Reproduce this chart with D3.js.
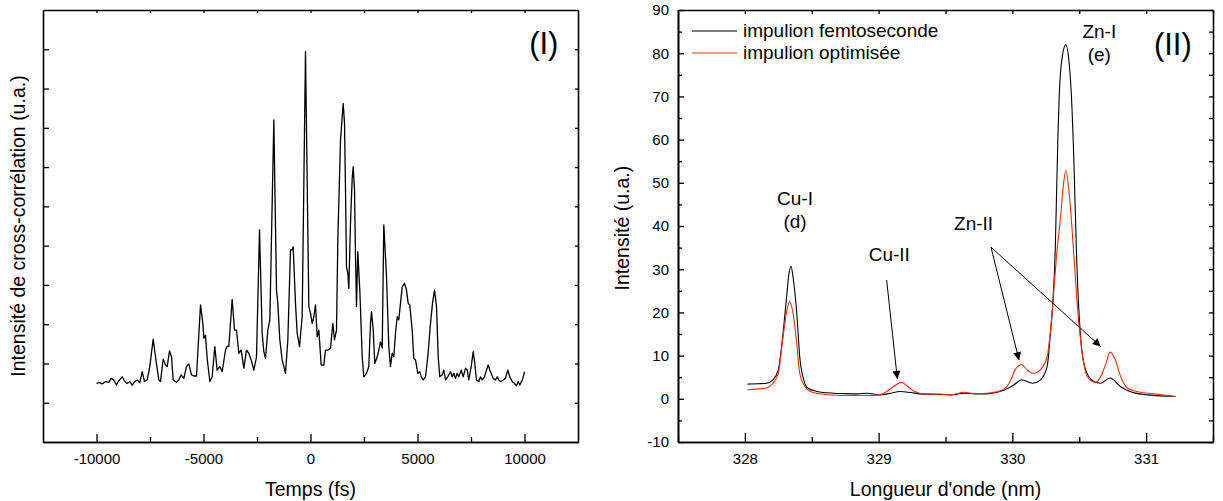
<!DOCTYPE html>
<html>
<head>
<meta charset="utf-8">
<script src="https://cdn.jsdelivr.net/npm/d3@7"></script>
<style>
  html, body { margin: 0; padding: 0; background: #fff; }
  svg { display: block; }
  text { font-family: "Liberation Sans", Arial, sans-serif; fill: #000; }
</style>
</head>
<body>
<svg id="chart" width="1223" height="501"></svg>
<script>
// ---------- Panel (I): cross-correlation ----------
const timeFs = [-10000,-9890,-9735,-9580,-9425,-9315,-9190,-9066,-8957,-8800,-8677,-8566,-8443,-8332,-8209,-8098,-7975,-7865,-7757,-7631,-7509,-7351,-7243,-7089,-7010,-6884,-6776,-6697,-6589,-6495,-6416,-6262,-6153,-6043,-5919,-5795,-5686,-5561,-5452,-5327,-5140,-5031,-4984,-4907,-4829,-4704,-4595,-4471,-4362,-4237,-4128,-3972,-3894,-3816,-3661,
 -3551,-3458,-3349,-3240,-3115,-2991,-2882,-2773,-2648,-2523,-2383,-2259,-2181,-2103,-1994,-1900,-1713,-1589,-1527,-1433,-1324,-1168,-1059,-935,-857,-810,-701,-623,-514,-389,-234,-78,0,78,156,234,312,390,499,623,701,810,935,1044,1121,1215,1277,1402,1527,
 1589,1636,1682,1743,1790,1869,1949,1995,2056,2103,2150,2210,2304,2416,2491,2617,2724,2804,2851,2930,3005,3117,3192,3271,3351,3425,3552,3659,3738,3818,3893,3972,4052,4126,4238,4285,4393,4486,4566,4640,4752,4827,4907,5014,5108,5173,5267,5374,5481,5608,5701,5795,5888,5967,6042,6154,6229,6309,6416,
 6542,6622,6696,6776,6855,6930,7042,7136,7243,7323,7397,7510,7603,7678,7757,7865,7944,8024,8131,8224,8304,8379,8444,8538,8645,8725,8800,8879,9005,9112,9220,9313,9425,9533,9626,9706,9781,9893,9968,10000];
const crossCorr = [1.49,1.52,1.48,1.54,1.52,1.62,1.58,1.45,1.56,1.66,1.54,1.49,1.54,1.45,1.54,1.58,1.51,1.79,1.54,1.58,1.92,2.62,2.17,1.58,1.54,2.11,1.96,1.92,2.32,2.17,1.58,1.52,1.58,1.71,1.62,1.92,1.99,1.71,1.68,1.68,3.49,3.02,2.64,2.72,2.13,1.54,1.66,2.43,1.83,1.92,1.79,2.34,2.44,2.43,3.63,
 2.85,2.85,2.26,2.34,1.88,2.34,2.26,2.09,1.83,2.17,5.40,2.77,2.30,2.13,2.85,3.11,8.20,3.87,3.53,2.60,2.09,1.75,2.60,4.89,4.89,4.97,3.53,2.77,2.43,3.19,9.94,3.45,3.28,3.02,3.19,3.49,2.68,2.85,1.96,1.96,2.34,2.34,2.39,3.02,2.60,2.85,5.14,7.69,8.62,
 8.12,6.42,4.46,4.30,3.91,5.57,6.72,7.01,6.42,4.72,3.45,4.85,3.87,2.17,1.66,1.75,1.92,3.02,3.32,2.85,2.00,2.17,2.34,2.55,2.39,5.53,4.21,2.43,1.92,2.26,2.17,2.77,3.19,3.11,3.70,3.95,4.04,3.87,3.53,3.49,2.85,2.13,2.09,1.75,1.79,1.66,1.58,1.66,2.17,3.02,3.53,3.87,3.45,2.17,1.66,1.71,1.83,1.58,1.66,
 1.79,1.66,1.75,1.62,1.75,1.66,1.83,1.66,1.88,1.83,1.58,1.92,2.30,2.00,1.58,1.54,1.66,1.58,1.66,1.83,1.96,1.83,1.75,1.62,1.58,1.66,1.58,1.54,1.58,1.62,1.83,1.66,1.54,1.49,1.43,1.54,1.45,1.58,1.71,1.79];
const timeMajorTicks = [-10000,-5000,0,5000,10000];
const timeMinorTicks = [-7500,-2500,2500,7500];
const ccTicks = [1,2,3,4,5,6,7,8,9,10];

// ---------- Panel (II): emission spectra ----------
const lambdaFemto = [328.02,328.10,328.16,328.21,328.25,328.28,328.31,328.33,328.345,328.36,328.39,328.41,328.44,328.47,328.54,328.66,328.75,328.84,328.91,329.01,329.09,329.16,329.24,329.31,329.42,329.54,329.64,329.72,329.81,329.93,330.01,330.07,330.15,330.21,330.26,330.28,330.30,330.32,330.33,330.34,330.35,330.37,330.40,330.42,330.44,330.46,330.48,330.50,330.52,330.54,330.57,330.61,330.66,330.73,330.81,330.88,331.01,331.22];
const intFemto = [3.4,3.5,3.6,4.4,6.7,13.6,22.9,29.0,30.7,28.2,19.0,9.8,4.4,2.5,1.7,1.3,1.2,1.15,1.3,0.9,1.3,1.7,1.45,1.15,1.05,0.9,1.3,1.15,1.15,1.9,3.2,4.4,3.6,4.4,7.5,13.6,21,34,47,60,70,78.5,82,79,71,55,33,19,11,7.5,5.2,4.0,3.6,4.8,2.8,1.7,0.9,0.53];
const lambdaOpt = [328.02,328.10,328.16,328.21,328.25,328.28,328.31,328.335,328.36,328.39,328.41,328.45,328.49,328.56,328.71,328.91,329.01,329.06,329.11,329.17,329.22,329.27,329.34,329.45,329.54,329.64,329.72,329.81,329.93,329.99,330.02,330.07,330.11,330.16,330.22,330.26,330.29,330.31,330.33,330.36,330.38,330.40,330.42,330.44,330.46,330.48,330.51,330.55,330.58,330.62,330.66,330.70,330.73,330.77,330.81,330.86,330.93,331.06,331.22];
const intOpt = [2.1,2.3,2.5,3.6,5.9,12.9,19.8,22.5,19.8,12.1,5.9,2.8,1.7,1.15,0.77,0.77,0.9,1.7,2.8,3.8,2.8,1.7,1.15,1.1,0.95,1.5,1.2,1.3,2.1,4.4,6.7,7.9,6.7,5.9,7.1,9.8,17.5,25,33,42,49,52.9,49,42,33,24,13.6,5.9,4.4,3.8,5.1,8.2,10.8,9.0,5.1,2.5,1.7,1.15,0.53];
const lambdaMajorTicks = [328,329,330,331];
const lambdaMinorTicks = [327.5,328.5,329.5,330.5,331.5];
const intMajorTicks = [-10,0,10,20,30,40,50,60,70,80,90];
const intMinorTicks = [-5,5,15,25,35,45,55,65,75,85];
const legendLabels = ["impulion femtoseconde","impulion optimisée"];
const seriesColors = ["#000000","#ff2a00"];
// annotations: [text, lambda, intensity]
const peakLabels = [["Cu-I",328.375,44.8],["(d)",328.375,39.5],["Cu-II",329.08,31.9],["Zn-II",329.71,39.0],["Zn-I",330.65,83.6],["(e)",330.65,78.1]];
// arrows: [fromLambda, fromInt, toLambda, toInt]
const arrows = [[329.06,27.5,329.14,4.6],[329.84,35.1,330.05,8.9],[329.84,35.1,330.66,12.1]];

const svg = d3.select("#chart");
const tickFont = 15, titleFont = 19.5;
const plainFmt = d => String(d);

svg.append("defs").append("marker")
  .attr("id","arrowhead").attr("markerUnits","userSpaceOnUse")
  .attr("viewBox","0 0 10 10").attr("refX",10).attr("refY",5)
  .attr("markerWidth",11).attr("markerHeight",8).attr("orient","auto")
  .append("path").attr("d","M0,0 L10,5 L0,10 Z").attr("fill","#000");

function styleAxis(g){
  g.select(".domain").attr("stroke","#000").attr("stroke-width",1.6);
  g.selectAll(".tick line").attr("stroke","#000").attr("stroke-width",1.3);
  g.selectAll(".tick text").style("font-family","Liberation Sans, Arial, sans-serif").style("font-size",tickFont+"px").attr("fill","#000");
}

// ===== Panel I =====
{
  const L=43, R=578, T=10, B=442;
  const x = d3.scaleLinear().domain([-12500,12500]).range([L,R]);
  const y = d3.scaleLinear().domain([0,11]).range([B,T]);
  svg.append("g").attr("transform",`translate(0,${B})`)
    .call(d3.axisBottom(x).tickValues(timeMajorTicks).tickSizeInner(-8).tickSizeOuter(0).tickPadding(11).tickFormat(plainFmt))
    .call(styleAxis);
  svg.append("g").attr("transform",`translate(0,${B})`)
    .call(d3.axisBottom(x).tickValues(timeMinorTicks).tickSizeInner(-5).tickSizeOuter(0).tickFormat(""))
    .call(styleAxis);
  svg.append("g").attr("transform",`translate(0,${T})`)
    .call(d3.axisTop(x).tickValues(timeMajorTicks.concat(timeMinorTicks)).tickSizeInner(-3).tickSizeOuter(0).tickFormat(""))
    .call(styleAxis);
  svg.append("g").attr("transform",`translate(${L},0)`)
    .call(d3.axisLeft(y).tickValues(ccTicks).tickSizeInner(-6).tickSizeOuter(0).tickFormat(""))
    .call(styleAxis);
  svg.append("g").attr("transform",`translate(${R},0)`)
    .call(d3.axisRight(y).tickValues(ccTicks).tickSizeInner(-3).tickSizeOuter(0).tickFormat(""))
    .call(styleAxis);

  const pts = timeFs.map((t,i)=>[t,crossCorr[i]]);
  svg.append("path").datum(pts)
    .attr("fill","none").attr("stroke","#000").attr("stroke-width",1.3).attr("stroke-linejoin","round")
    .attr("d", d3.line().x(d=>x(d[0])).y(d=>y(d[1])));

  svg.append("text").attr("x",x(0)).attr("y",496).attr("text-anchor","middle")
    .style("font-size",titleFont+"px").text("Temps (fs)");
  svg.append("text").attr("transform",`translate(25,${(T+B)/2}) rotate(-90)`).attr("text-anchor","middle")
    .style("font-size",titleFont+"px").text("Intensité de cross-corrélation (u.a.)");
  svg.append("text").attr("x",x(10900)).attr("y",y(9.88)).attr("text-anchor","middle")
    .style("font-size","31px").text("(I)");
}

// ===== Panel II =====
{
  const L=678, R=1213, T=10, B=442;
  const x = d3.scaleLinear().domain([327.5,331.5]).range([L,R]);
  const y = d3.scaleLinear().domain([-10,90]).range([B,T]);
  svg.append("g").attr("transform",`translate(0,${B})`)
    .call(d3.axisBottom(x).tickValues(lambdaMajorTicks).tickSizeInner(-9).tickSizeOuter(0).tickPadding(11).tickFormat(plainFmt))
    .call(styleAxis);
  svg.append("g").attr("transform",`translate(0,${B})`)
    .call(d3.axisBottom(x).tickValues(lambdaMinorTicks).tickSizeInner(-5).tickSizeOuter(0).tickFormat(""))
    .call(styleAxis);
  svg.append("g").attr("transform",`translate(0,${T})`)
    .call(d3.axisTop(x).tickValues(lambdaMajorTicks.concat(lambdaMinorTicks)).tickSizeInner(-4).tickSizeOuter(0).tickFormat(""))
    .call(styleAxis);
  svg.append("g").attr("transform",`translate(${L},0)`)
    .call(d3.axisLeft(y).tickValues(intMajorTicks).tickSizeInner(-6).tickSizeOuter(0).tickPadding(9).tickFormat(plainFmt))
    .call(styleAxis);
  svg.append("g").attr("transform",`translate(${L},0)`)
    .call(d3.axisLeft(y).tickValues(intMinorTicks).tickSizeInner(-4).tickSizeOuter(0).tickFormat(""))
    .call(styleAxis);
  svg.append("g").attr("transform",`translate(${R},0)`)
    .call(d3.axisRight(y).tickValues(intMajorTicks.concat(intMinorTicks)).tickSizeInner(-4).tickSizeOuter(0).tickFormat(""))
    .call(styleAxis);

  const line = d3.line().x(d=>x(d[0])).y(d=>y(d[1])).curve(d3.curveMonotoneX);
  const black = lambdaFemto.map((l,i)=>[l,intFemto[i]]);
  const red = lambdaOpt.map((l,i)=>[l,intOpt[i]]);
  svg.append("path").datum(black).attr("fill","none").attr("stroke",seriesColors[0]).attr("stroke-width",1.1).attr("d",line);
  svg.append("path").datum(red).attr("fill","none").attr("stroke",seriesColors[1]).attr("stroke-width",1.1).attr("d",line);

  legendLabels.forEach((lab,i)=>{
    const ly = 31 + i*22;
    svg.append("line").attr("x1",692).attr("x2",737).attr("y1",ly).attr("y2",ly)
      .attr("stroke",seriesColors[i]).attr("stroke-width",1.1);
    svg.append("text").attr("x",743).attr("y",ly+6).style("font-size","19px").text(lab);
  });

  peakLabels.forEach(([t,l,v])=>{
    svg.append("text").attr("x",x(l)).attr("y",y(v)).attr("text-anchor","middle")
      .style("font-size","19px").text(t);
  });
  arrows.forEach(([l0,v0,l1,v1])=>{
    svg.append("line").attr("x1",x(l0)).attr("y1",y(v0)).attr("x2",x(l1)).attr("y2",y(v1))
      .attr("stroke","#000").attr("stroke-width",1).attr("marker-end","url(#arrowhead)");
  });

  svg.append("text").attr("x",x(329.5)).attr("y",496).attr("text-anchor","middle")
    .style("font-size",titleFont+"px").text("Longueur d'onde (nm)");
  svg.append("text").attr("transform",`translate(629,${y(39.5)}) rotate(-90)`).attr("text-anchor","middle")
    .style("font-size",titleFont+"px").text("Intensité (u.a.)");
  svg.append("text").attr("x",x(331.2)).attr("y",y(79.5)).attr("text-anchor","middle")
    .style("font-size","31px").text("(II)");
}
</script>
</body>
</html>
